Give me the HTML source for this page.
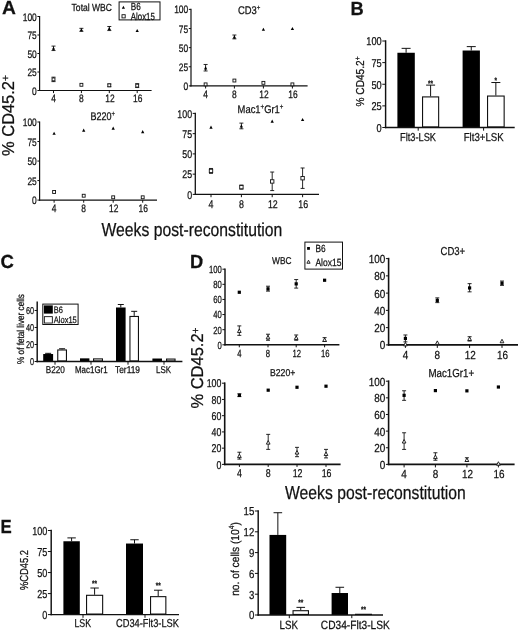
<!DOCTYPE html>
<html><head><meta charset="utf-8"><title>Figure</title>
<style>html,body{margin:0;padding:0;background:#fff}svg{display:block}
svg text{font-family:"Liberation Sans",Arial,sans-serif;fill:#111;stroke:#111;stroke-width:0.25px;text-rendering:geometricPrecision}
</style></head>
<body><svg width="520" height="631" viewBox="0 0 520 631">
<rect x="0" y="0" width="520" height="631" fill="#fff" stroke="none"/><g stroke="#111" fill="none">
<text transform="translate(2.00,14.40) scale(1.013,1)" font-size="19" text-anchor="start" font-weight="bold">A</text>
<text transform="translate(350.60,14.90) scale(0.962,1)" font-size="19" text-anchor="start" font-weight="bold">B</text>
<text transform="translate(0.60,268.20) scale(0.977,1)" font-size="19" text-anchor="start" font-weight="bold">C</text>
<text transform="translate(190.00,267.90) scale(0.962,1)" font-size="19" text-anchor="start" font-weight="bold">D</text>
<text transform="translate(0.40,533.30) scale(0.884,1)" font-size="19" text-anchor="start" font-weight="bold">E</text>
<text transform="translate(13.60,115.50) rotate(-90) scale(0.955,1)" font-size="17.2" text-anchor="middle"><tspan>% CD45.2</tspan><tspan dy="-4.64" font-size="10.66">+</tspan><tspan dy="4.64" font-size="10.66">&#8203;</tspan></text>
<text transform="translate(101.50,236.00) scale(0.838,1)" font-size="18.8" text-anchor="start">Weeks post-reconstitution</text>
<line x1="39.60" y1="15.90" x2="39.60" y2="91.10" stroke-width="1.2"/>
<line x1="39.00" y1="90.50" x2="151.60" y2="90.50" stroke-width="1.2"/>
<line x1="37.40" y1="90.50" x2="39.60" y2="90.50" stroke-width="1.0"/>
<text transform="translate(36.80,94.55) scale(0.780,1)" font-size="10.8" text-anchor="end">0</text>
<line x1="37.40" y1="72.00" x2="39.60" y2="72.00" stroke-width="1.0"/>
<text transform="translate(36.80,76.05) scale(0.780,1)" font-size="10.8" text-anchor="end">25</text>
<line x1="37.40" y1="53.50" x2="39.60" y2="53.50" stroke-width="1.0"/>
<text transform="translate(36.80,57.55) scale(0.780,1)" font-size="10.8" text-anchor="end">50</text>
<line x1="37.40" y1="35.00" x2="39.60" y2="35.00" stroke-width="1.0"/>
<text transform="translate(36.80,39.05) scale(0.780,1)" font-size="10.8" text-anchor="end">75</text>
<line x1="37.40" y1="16.50" x2="39.60" y2="16.50" stroke-width="1.0"/>
<text transform="translate(36.80,20.55) scale(0.780,1)" font-size="10.8" text-anchor="end">100</text>
<line x1="53.50" y1="90.50" x2="53.50" y2="93.10" stroke-width="1.0"/>
<text transform="translate(53.50,102.30) scale(0.780,1)" font-size="10.8" text-anchor="middle">4</text>
<line x1="81.40" y1="90.50" x2="81.40" y2="93.10" stroke-width="1.0"/>
<text transform="translate(81.40,102.30) scale(0.780,1)" font-size="10.8" text-anchor="middle">8</text>
<line x1="109.30" y1="90.50" x2="109.30" y2="93.10" stroke-width="1.0"/>
<text transform="translate(109.90,102.30) scale(0.780,1)" font-size="10.8" text-anchor="middle">12</text>
<line x1="137.20" y1="90.50" x2="137.20" y2="93.10" stroke-width="1.0"/>
<text transform="translate(137.80,102.30) scale(0.780,1)" font-size="10.8" text-anchor="middle">16</text>
<line x1="53.50" y1="81.62" x2="53.50" y2="77.18" stroke-width="0.9"/>
<line x1="51.50" y1="81.62" x2="55.50" y2="81.62" stroke-width="0.9"/>
<line x1="51.50" y1="77.18" x2="55.50" y2="77.18" stroke-width="0.9"/>
<rect x="52.05" y="77.95" width="2.90" height="2.90" fill="#fff" stroke-width="0.9"/>
<rect x="79.95" y="83.35" width="2.90" height="2.90" fill="#fff" stroke-width="0.9"/>
<line x1="109.30" y1="86.65" x2="109.30" y2="83.99" stroke-width="0.9"/>
<line x1="107.30" y1="86.65" x2="111.30" y2="86.65" stroke-width="0.9"/>
<line x1="107.30" y1="83.99" x2="111.30" y2="83.99" stroke-width="0.9"/>
<rect x="107.85" y="83.87" width="2.90" height="2.90" fill="#fff" stroke-width="0.9"/>
<line x1="137.20" y1="87.54" x2="137.20" y2="83.69" stroke-width="0.9"/>
<line x1="135.20" y1="87.54" x2="139.20" y2="87.54" stroke-width="0.9"/>
<line x1="135.20" y1="83.69" x2="139.20" y2="83.69" stroke-width="0.9"/>
<rect x="135.75" y="84.17" width="2.90" height="2.90" fill="#fff" stroke-width="0.9"/>
<line x1="53.50" y1="50.54" x2="53.50" y2="46.10" stroke-width="0.9"/>
<line x1="51.50" y1="50.54" x2="55.50" y2="50.54" stroke-width="0.9"/>
<line x1="51.50" y1="46.10" x2="55.50" y2="46.10" stroke-width="0.9"/>
<path d="M53.50,46.67 L55.15,49.80 L51.85,49.80Z" fill="#000" stroke="none"/>
<line x1="81.40" y1="31.30" x2="81.40" y2="28.34" stroke-width="0.9"/>
<line x1="79.40" y1="31.30" x2="83.40" y2="31.30" stroke-width="0.9"/>
<line x1="79.40" y1="28.34" x2="83.40" y2="28.34" stroke-width="0.9"/>
<path d="M81.40,28.17 L83.05,31.30 L79.75,31.30Z" fill="#000" stroke="none"/>
<line x1="109.30" y1="30.56" x2="109.30" y2="26.49" stroke-width="0.9"/>
<line x1="107.30" y1="30.56" x2="111.30" y2="30.56" stroke-width="0.9"/>
<line x1="107.30" y1="26.49" x2="111.30" y2="26.49" stroke-width="0.9"/>
<path d="M109.30,26.99 L110.95,30.12 L107.65,30.12Z" fill="#000" stroke="none"/>
<path d="M137.20,28.91 L138.85,32.05 L135.55,32.05Z" fill="#000" stroke="none"/>
<text transform="translate(71.60,11.30) scale(0.830,1)" font-size="10.3" text-anchor="start">Total WBC</text>
<rect x="119.10" y="1.90" width="40.90" height="18.00" fill="#fff" stroke-width="1.0"/>
<path d="M123.40,5.70 L125.00,8.74 L121.80,8.74Z" fill="#000" stroke="none"/>
<rect x="122.00" y="14.70" width="3.20" height="3.20" fill="#fff" stroke-width="0.9"/>
<text transform="translate(130.80,9.70) scale(0.790,1)" font-size="10.3" text-anchor="start">B6</text>
<text transform="translate(130.80,19.90) scale(0.762,1)" font-size="10.3" text-anchor="start">Alox15</text>
<line x1="191.00" y1="8.80" x2="191.00" y2="86.50" stroke-width="1.2"/>
<line x1="190.40" y1="85.90" x2="307.60" y2="85.90" stroke-width="1.2"/>
<line x1="188.80" y1="85.90" x2="191.00" y2="85.90" stroke-width="1.0"/>
<text transform="translate(188.20,89.95) scale(0.780,1)" font-size="10.8" text-anchor="end">0</text>
<line x1="188.80" y1="66.78" x2="191.00" y2="66.78" stroke-width="1.0"/>
<text transform="translate(188.20,70.83) scale(0.780,1)" font-size="10.8" text-anchor="end">25</text>
<line x1="188.80" y1="47.65" x2="191.00" y2="47.65" stroke-width="1.0"/>
<text transform="translate(188.20,51.70) scale(0.780,1)" font-size="10.8" text-anchor="end">50</text>
<line x1="188.80" y1="28.53" x2="191.00" y2="28.53" stroke-width="1.0"/>
<text transform="translate(188.20,32.58) scale(0.780,1)" font-size="10.8" text-anchor="end">75</text>
<line x1="188.80" y1="9.40" x2="191.00" y2="9.40" stroke-width="1.0"/>
<text transform="translate(188.20,13.45) scale(0.780,1)" font-size="10.8" text-anchor="end">100</text>
<line x1="205.60" y1="85.90" x2="205.60" y2="88.50" stroke-width="1.0"/>
<text transform="translate(205.60,97.90) scale(0.780,1)" font-size="10.8" text-anchor="middle">4</text>
<line x1="234.40" y1="85.90" x2="234.40" y2="88.50" stroke-width="1.0"/>
<text transform="translate(234.40,97.90) scale(0.780,1)" font-size="10.8" text-anchor="middle">8</text>
<line x1="263.40" y1="85.90" x2="263.40" y2="88.50" stroke-width="1.0"/>
<text transform="translate(264.00,97.90) scale(0.780,1)" font-size="10.8" text-anchor="middle">12</text>
<line x1="292.40" y1="85.90" x2="292.40" y2="88.50" stroke-width="1.0"/>
<text transform="translate(293.00,97.90) scale(0.780,1)" font-size="10.8" text-anchor="middle">16</text>
<rect x="204.15" y="82.92" width="2.90" height="2.90" fill="#fff" stroke-width="0.9"/>
<rect x="232.95" y="79.09" width="2.90" height="2.90" fill="#fff" stroke-width="0.9"/>
<rect x="261.95" y="81.39" width="2.90" height="2.90" fill="#fff" stroke-width="0.9"/>
<rect x="290.95" y="82.92" width="2.90" height="2.90" fill="#fff" stroke-width="0.9"/>
<line x1="205.60" y1="70.98" x2="205.60" y2="64.48" stroke-width="0.9"/>
<line x1="203.60" y1="70.98" x2="207.60" y2="70.98" stroke-width="0.9"/>
<line x1="203.60" y1="64.48" x2="207.60" y2="64.48" stroke-width="0.9"/>
<path d="M205.60,66.27 L207.25,69.41 L203.95,69.41Z" fill="#000" stroke="none"/>
<line x1="234.40" y1="38.85" x2="234.40" y2="35.03" stroke-width="0.9"/>
<line x1="232.40" y1="38.85" x2="236.40" y2="38.85" stroke-width="0.9"/>
<line x1="232.40" y1="35.03" x2="236.40" y2="35.03" stroke-width="0.9"/>
<path d="M234.40,35.29 L236.05,38.43 L232.75,38.43Z" fill="#000" stroke="none"/>
<path d="M263.40,27.64 L265.05,30.78 L261.75,30.78Z" fill="#000" stroke="none"/>
<path d="M292.40,26.88 L294.05,30.01 L290.75,30.01Z" fill="#000" stroke="none"/>
<text transform="translate(238.00,14.40) scale(0.841,1)" font-size="11.19" text-anchor="start"><tspan>CD3</tspan><tspan dy="-4.25" font-size="7.27">+</tspan><tspan dy="4.25" font-size="7.27">&#8203;</tspan></text>
<line x1="39.60" y1="121.40" x2="39.60" y2="200.70" stroke-width="1.2"/>
<line x1="39.00" y1="200.10" x2="157.00" y2="200.10" stroke-width="1.2"/>
<line x1="37.40" y1="200.10" x2="39.60" y2="200.10" stroke-width="1.0"/>
<text transform="translate(36.80,204.15) scale(0.780,1)" font-size="10.8" text-anchor="end">0</text>
<line x1="37.40" y1="180.57" x2="39.60" y2="180.57" stroke-width="1.0"/>
<text transform="translate(36.80,184.62) scale(0.780,1)" font-size="10.8" text-anchor="end">25</text>
<line x1="37.40" y1="161.05" x2="39.60" y2="161.05" stroke-width="1.0"/>
<text transform="translate(36.80,165.10) scale(0.780,1)" font-size="10.8" text-anchor="end">50</text>
<line x1="37.40" y1="141.53" x2="39.60" y2="141.53" stroke-width="1.0"/>
<text transform="translate(36.80,145.58) scale(0.780,1)" font-size="10.8" text-anchor="end">75</text>
<line x1="37.40" y1="122.00" x2="39.60" y2="122.00" stroke-width="1.0"/>
<text transform="translate(36.80,126.05) scale(0.780,1)" font-size="10.8" text-anchor="end">100</text>
<line x1="54.10" y1="200.10" x2="54.10" y2="202.70" stroke-width="1.0"/>
<text transform="translate(54.10,212.30) scale(0.780,1)" font-size="10.8" text-anchor="middle">4</text>
<line x1="83.70" y1="200.10" x2="83.70" y2="202.70" stroke-width="1.0"/>
<text transform="translate(83.70,212.30) scale(0.780,1)" font-size="10.8" text-anchor="middle">8</text>
<line x1="113.20" y1="200.10" x2="113.20" y2="202.70" stroke-width="1.0"/>
<text transform="translate(113.80,212.30) scale(0.780,1)" font-size="10.8" text-anchor="middle">12</text>
<line x1="142.70" y1="200.10" x2="142.70" y2="202.70" stroke-width="1.0"/>
<text transform="translate(143.30,212.30) scale(0.780,1)" font-size="10.8" text-anchor="middle">16</text>
<rect x="52.65" y="190.53" width="2.90" height="2.90" fill="#fff" stroke-width="0.9"/>
<rect x="82.25" y="194.28" width="2.90" height="2.90" fill="#fff" stroke-width="0.9"/>
<rect x="111.75" y="195.84" width="2.90" height="2.90" fill="#fff" stroke-width="0.9"/>
<rect x="141.25" y="195.84" width="2.90" height="2.90" fill="#fff" stroke-width="0.9"/>
<path d="M54.10,131.67 L55.75,134.81 L52.45,134.81Z" fill="#000" stroke="none"/>
<path d="M83.70,128.55 L85.35,131.69 L82.05,131.69Z" fill="#000" stroke="none"/>
<path d="M113.20,126.60 L114.85,129.73 L111.55,129.73Z" fill="#000" stroke="none"/>
<path d="M142.70,130.03 L144.35,133.17 L141.05,133.17Z" fill="#000" stroke="none"/>
<text transform="translate(90.40,120.20) scale(0.814,1)" font-size="11.07" text-anchor="start"><tspan>B220</tspan><tspan dy="-4.21" font-size="7.20">+</tspan><tspan dy="4.21" font-size="7.20">&#8203;</tspan></text>
<line x1="195.30" y1="112.75" x2="195.30" y2="195.05" stroke-width="1.3"/>
<line x1="194.65" y1="194.40" x2="319.00" y2="194.40" stroke-width="1.3"/>
<line x1="192.70" y1="194.40" x2="195.30" y2="194.40" stroke-width="1.0"/>
<text transform="translate(192.10,198.60) scale(0.790,1)" font-size="11.2" text-anchor="end">0</text>
<line x1="192.70" y1="174.15" x2="195.30" y2="174.15" stroke-width="1.0"/>
<text transform="translate(192.10,178.35) scale(0.790,1)" font-size="11.2" text-anchor="end">25</text>
<line x1="192.70" y1="153.90" x2="195.30" y2="153.90" stroke-width="1.0"/>
<text transform="translate(192.10,158.10) scale(0.790,1)" font-size="11.2" text-anchor="end">50</text>
<line x1="192.70" y1="133.65" x2="195.30" y2="133.65" stroke-width="1.0"/>
<text transform="translate(192.10,137.85) scale(0.790,1)" font-size="11.2" text-anchor="end">75</text>
<line x1="192.70" y1="113.40" x2="195.30" y2="113.40" stroke-width="1.0"/>
<text transform="translate(192.10,117.60) scale(0.790,1)" font-size="11.2" text-anchor="end">100</text>
<line x1="211.00" y1="194.40" x2="211.00" y2="197.20" stroke-width="1.0"/>
<text transform="translate(211.00,207.60) scale(0.790,1)" font-size="11.2" text-anchor="middle">4</text>
<line x1="241.40" y1="194.40" x2="241.40" y2="197.20" stroke-width="1.0"/>
<text transform="translate(241.40,207.60) scale(0.790,1)" font-size="11.2" text-anchor="middle">8</text>
<line x1="272.20" y1="194.40" x2="272.20" y2="197.20" stroke-width="1.0"/>
<text transform="translate(272.80,207.60) scale(0.790,1)" font-size="11.2" text-anchor="middle">12</text>
<line x1="302.60" y1="194.40" x2="302.60" y2="197.20" stroke-width="1.0"/>
<text transform="translate(303.20,207.60) scale(0.790,1)" font-size="11.2" text-anchor="middle">16</text>
<line x1="211.00" y1="173.34" x2="211.00" y2="168.48" stroke-width="0.9"/>
<line x1="209.00" y1="173.34" x2="213.00" y2="173.34" stroke-width="0.9"/>
<line x1="209.00" y1="168.48" x2="213.00" y2="168.48" stroke-width="0.9"/>
<rect x="209.30" y="169.21" width="3.40" height="3.40" fill="#fff" stroke-width="0.9"/>
<line x1="241.40" y1="189.13" x2="241.40" y2="185.09" stroke-width="0.9"/>
<line x1="239.40" y1="189.13" x2="243.40" y2="189.13" stroke-width="0.9"/>
<line x1="239.40" y1="185.09" x2="243.40" y2="185.09" stroke-width="0.9"/>
<rect x="239.70" y="185.41" width="3.40" height="3.40" fill="#fff" stroke-width="0.9"/>
<line x1="272.20" y1="190.59" x2="272.20" y2="172.04" stroke-width="0.9"/>
<line x1="270.20" y1="190.59" x2="274.20" y2="190.59" stroke-width="0.9"/>
<line x1="270.20" y1="172.04" x2="274.20" y2="172.04" stroke-width="0.9"/>
<rect x="270.50" y="179.74" width="3.40" height="3.40" fill="#fff" stroke-width="0.9"/>
<line x1="302.60" y1="188.41" x2="302.60" y2="167.99" stroke-width="0.9"/>
<line x1="300.60" y1="188.41" x2="304.60" y2="188.41" stroke-width="0.9"/>
<line x1="300.60" y1="167.99" x2="304.60" y2="167.99" stroke-width="0.9"/>
<rect x="300.90" y="176.50" width="3.40" height="3.40" fill="#fff" stroke-width="0.9"/>
<path d="M211.00,125.52 L212.65,128.66 L209.35,128.66Z" fill="#000" stroke="none"/>
<line x1="241.40" y1="128.79" x2="241.40" y2="123.12" stroke-width="0.9"/>
<line x1="239.40" y1="128.79" x2="243.40" y2="128.79" stroke-width="0.9"/>
<line x1="239.40" y1="123.12" x2="243.40" y2="123.12" stroke-width="0.9"/>
<path d="M241.40,124.39 L243.05,127.52 L239.75,127.52Z" fill="#000" stroke="none"/>
<path d="M272.20,119.53 L273.85,122.66 L270.55,122.66Z" fill="#000" stroke="none"/>
<path d="M302.60,117.91 L304.25,121.04 L300.95,121.04Z" fill="#000" stroke="none"/>
<text transform="translate(237.60,112.80) scale(0.850,1)" font-size="11.07" text-anchor="start"><tspan>Mac1</tspan><tspan dy="-4.21" font-size="7.20">+</tspan><tspan dy="4.21" font-size="7.20">&#8203;</tspan><tspan>Gr1</tspan><tspan dy="-4.21" font-size="7.20">+</tspan><tspan dy="4.21" font-size="7.20">&#8203;</tspan></text>
<line x1="406.10" y1="52.76" x2="406.10" y2="48.35" stroke-width="1.0"/>
<line x1="401.60" y1="48.35" x2="410.60" y2="48.35" stroke-width="1.0"/>
<rect x="397.40" y="52.76" width="17.40" height="74.74" fill="#000" stroke="none"/>
<line x1="430.60" y1="96.36" x2="430.60" y2="85.12" stroke-width="1.0"/>
<line x1="426.10" y1="85.12" x2="435.10" y2="85.12" stroke-width="1.0"/>
<rect x="422.55" y="96.91" width="16.10" height="30.04" fill="#fff" stroke-width="1.1"/>
<text transform="translate(430.60,86.20) scale(0.800,1)" font-size="8" text-anchor="middle" font-weight="bold">**</text>
<line x1="471.25" y1="50.52" x2="471.25" y2="46.62" stroke-width="1.0"/>
<line x1="466.75" y1="46.62" x2="475.75" y2="46.62" stroke-width="1.0"/>
<rect x="462.60" y="50.52" width="17.30" height="76.98" fill="#000" stroke="none"/>
<line x1="495.85" y1="95.50" x2="495.85" y2="82.52" stroke-width="1.0"/>
<line x1="491.35" y1="82.52" x2="500.35" y2="82.52" stroke-width="1.0"/>
<rect x="487.55" y="96.05" width="16.60" height="30.90" fill="#fff" stroke-width="1.1"/>
<text transform="translate(495.85,83.20) scale(0.800,1)" font-size="8" text-anchor="middle" font-weight="bold">*</text>
<line x1="385.60" y1="40.27" x2="385.60" y2="128.22" stroke-width="1.45"/>
<line x1="384.88" y1="127.50" x2="514.70" y2="127.50" stroke-width="1.45"/>
<line x1="382.30" y1="127.50" x2="385.60" y2="127.50" stroke-width="1.0"/>
<text transform="translate(381.70,131.78) scale(0.810,1)" font-size="11.4" text-anchor="end">0</text>
<line x1="382.30" y1="105.88" x2="385.60" y2="105.88" stroke-width="1.0"/>
<text transform="translate(381.70,110.15) scale(0.810,1)" font-size="11.4" text-anchor="end">25</text>
<line x1="382.30" y1="84.25" x2="385.60" y2="84.25" stroke-width="1.0"/>
<text transform="translate(381.70,88.53) scale(0.810,1)" font-size="11.4" text-anchor="end">50</text>
<line x1="382.30" y1="62.62" x2="385.60" y2="62.62" stroke-width="1.0"/>
<text transform="translate(381.70,66.90) scale(0.810,1)" font-size="11.4" text-anchor="end">75</text>
<line x1="382.30" y1="41.00" x2="385.60" y2="41.00" stroke-width="1.0"/>
<text transform="translate(381.70,45.27) scale(0.810,1)" font-size="11.4" text-anchor="end">100</text>
<line x1="418.20" y1="127.50" x2="418.20" y2="130.70" stroke-width="1.0"/>
<line x1="483.60" y1="127.50" x2="483.60" y2="130.70" stroke-width="1.0"/>
<text transform="translate(400.00,140.80) scale(0.803,1)" font-size="11.53" text-anchor="start">Flt3-LSK</text>
<text transform="translate(463.70,140.80) scale(0.838,1)" font-size="11.53" text-anchor="start">Flt3+LSK</text>
<text transform="translate(363.90,81.50) rotate(-90) scale(0.880,1)" font-size="11.5" text-anchor="middle"><tspan>% CD45.2</tspan><tspan dy="-4.37" font-size="7.48">+</tspan><tspan dy="4.37" font-size="7.48">&#8203;</tspan></text>
<line x1="48.15" y1="354.01" x2="48.15" y2="353.33" stroke-width="1.0"/>
<line x1="45.15" y1="353.33" x2="51.15" y2="353.33" stroke-width="1.0"/>
<rect x="43.20" y="354.01" width="9.90" height="7.49" fill="#000" stroke="none"/>
<line x1="62.10" y1="349.42" x2="62.10" y2="348.74" stroke-width="1.0"/>
<line x1="59.10" y1="348.74" x2="65.10" y2="348.74" stroke-width="1.0"/>
<rect x="57.75" y="349.97" width="8.70" height="10.98" fill="#fff" stroke-width="1.1"/>
<rect x="80.00" y="358.35" width="9.40" height="3.15" fill="#000" stroke="none"/>
<rect x="93.55" y="358.90" width="8.90" height="2.05" fill="#fff" stroke-width="1.1"/>
<line x1="120.80" y1="307.49" x2="120.80" y2="304.51" stroke-width="1.0"/>
<line x1="117.80" y1="304.51" x2="123.80" y2="304.51" stroke-width="1.0"/>
<rect x="116.00" y="307.49" width="9.60" height="54.01" fill="#000" stroke="none"/>
<line x1="134.20" y1="315.91" x2="134.20" y2="311.32" stroke-width="1.0"/>
<line x1="131.20" y1="311.32" x2="137.20" y2="311.32" stroke-width="1.0"/>
<rect x="129.95" y="316.46" width="8.50" height="44.49" fill="#fff" stroke-width="1.1"/>
<rect x="152.40" y="358.52" width="9.60" height="2.98" fill="#000" stroke="none"/>
<rect x="166.55" y="359.07" width="8.50" height="1.88" fill="#fff" stroke-width="1.1"/>
<line x1="37.20" y1="301.57" x2="37.20" y2="362.23" stroke-width="1.45"/>
<line x1="36.48" y1="361.50" x2="182.40" y2="361.50" stroke-width="1.45"/>
<line x1="34.60" y1="361.50" x2="37.20" y2="361.50" stroke-width="1.0"/>
<text transform="translate(34.00,365.25) scale(0.730,1)" font-size="10" text-anchor="end">0</text>
<line x1="34.60" y1="344.49" x2="37.20" y2="344.49" stroke-width="1.0"/>
<text transform="translate(34.00,348.24) scale(0.730,1)" font-size="10" text-anchor="end">20</text>
<line x1="34.60" y1="327.48" x2="37.20" y2="327.48" stroke-width="1.0"/>
<text transform="translate(34.00,331.23) scale(0.730,1)" font-size="10" text-anchor="end">40</text>
<line x1="34.60" y1="310.47" x2="37.20" y2="310.47" stroke-width="1.0"/>
<text transform="translate(34.00,314.22) scale(0.730,1)" font-size="10" text-anchor="end">60</text>
<line x1="55.00" y1="361.50" x2="55.00" y2="364.70" stroke-width="1.0"/>
<line x1="91.00" y1="361.50" x2="91.00" y2="364.70" stroke-width="1.0"/>
<line x1="128.00" y1="361.50" x2="128.00" y2="364.70" stroke-width="1.0"/>
<line x1="164.00" y1="361.50" x2="164.00" y2="364.70" stroke-width="1.0"/>
<text transform="translate(45.70,372.60) scale(0.836,1)" font-size="9.83" text-anchor="start">B220</text>
<text transform="translate(75.00,372.60) scale(0.807,1)" font-size="9.83" text-anchor="start">Mac1Gr1</text>
<text transform="translate(115.00,372.60) scale(0.853,1)" font-size="9.83" text-anchor="start">Ter119</text>
<text transform="translate(156.00,372.60) scale(0.807,1)" font-size="9.83" text-anchor="start">LSK</text>
<text transform="translate(23.70,329.00) rotate(-90) scale(0.823,1)" font-size="9.94" text-anchor="middle">% of fetal liver cells</text>
<rect x="42.80" y="304.10" width="35.30" height="20.40" fill="#fff" stroke-width="1.0"/>
<rect x="43.90" y="305.40" width="8.90" height="8.20" fill="#000" stroke="none"/>
<rect x="44.35" y="316.65" width="8.00" height="6.40" fill="#fff" stroke-width="0.9"/>
<text transform="translate(53.80,313.40) scale(0.796,1)" font-size="9.38" text-anchor="start">B6</text>
<text transform="translate(53.80,323.00) scale(0.802,1)" font-size="9.38" text-anchor="start">Alox15</text>
<text transform="translate(203.20,368.00) rotate(-90) scale(0.960,1)" font-size="17.2" text-anchor="middle"><tspan>% CD45.2</tspan><tspan dy="-4.64" font-size="10.66">+</tspan><tspan dy="4.64" font-size="10.66">&#8203;</tspan></text>
<text transform="translate(285.00,499.00) scale(0.838,1)" font-size="18.8" text-anchor="start">Weeks post-reconstitution</text>
<line x1="225.00" y1="268.47" x2="225.00" y2="345.53" stroke-width="1.45"/>
<line x1="224.28" y1="344.80" x2="339.40" y2="344.80" stroke-width="1.45"/>
<line x1="222.40" y1="344.80" x2="225.00" y2="344.80" stroke-width="1.0"/>
<text transform="translate(221.80,348.70) scale(0.740,1)" font-size="10.4" text-anchor="end">0</text>
<line x1="222.40" y1="329.68" x2="225.00" y2="329.68" stroke-width="1.0"/>
<text transform="translate(221.80,333.58) scale(0.740,1)" font-size="10.4" text-anchor="end">20</text>
<line x1="222.40" y1="314.56" x2="225.00" y2="314.56" stroke-width="1.0"/>
<text transform="translate(221.80,318.46) scale(0.740,1)" font-size="10.4" text-anchor="end">40</text>
<line x1="222.40" y1="299.44" x2="225.00" y2="299.44" stroke-width="1.0"/>
<text transform="translate(221.80,303.34) scale(0.740,1)" font-size="10.4" text-anchor="end">60</text>
<line x1="222.40" y1="284.32" x2="225.00" y2="284.32" stroke-width="1.0"/>
<text transform="translate(221.80,288.22) scale(0.740,1)" font-size="10.4" text-anchor="end">80</text>
<line x1="222.40" y1="269.20" x2="225.00" y2="269.20" stroke-width="1.0"/>
<text transform="translate(221.80,273.10) scale(0.740,1)" font-size="10.4" text-anchor="end">100</text>
<line x1="239.30" y1="344.80" x2="239.30" y2="347.30" stroke-width="1.0"/>
<text transform="translate(239.30,356.50) scale(0.740,1)" font-size="10.4" text-anchor="middle">4</text>
<line x1="268.00" y1="344.80" x2="268.00" y2="347.30" stroke-width="1.0"/>
<text transform="translate(268.00,356.50) scale(0.740,1)" font-size="10.4" text-anchor="middle">8</text>
<line x1="296.20" y1="344.80" x2="296.20" y2="347.30" stroke-width="1.0"/>
<text transform="translate(296.80,356.50) scale(0.740,1)" font-size="10.4" text-anchor="middle">12</text>
<line x1="324.60" y1="344.80" x2="324.60" y2="347.30" stroke-width="1.0"/>
<text transform="translate(325.20,356.50) scale(0.740,1)" font-size="10.4" text-anchor="middle">16</text>
<line x1="239.30" y1="335.35" x2="239.30" y2="325.90" stroke-width="0.9"/>
<line x1="237.30" y1="335.35" x2="241.30" y2="335.35" stroke-width="0.9"/>
<line x1="237.30" y1="325.90" x2="241.30" y2="325.90" stroke-width="0.9"/>
<path d="M239.30,328.96 L241.15,332.48 L237.45,332.48Z" fill="#fff" stroke-width="0.9"/>
<line x1="268.00" y1="340.26" x2="268.00" y2="334.22" stroke-width="0.9"/>
<line x1="266.00" y1="340.26" x2="270.00" y2="340.26" stroke-width="0.9"/>
<line x1="266.00" y1="334.22" x2="270.00" y2="334.22" stroke-width="0.9"/>
<path d="M268.00,335.39 L269.85,338.91 L266.15,338.91Z" fill="#fff" stroke-width="0.9"/>
<line x1="296.20" y1="340.26" x2="296.20" y2="334.97" stroke-width="0.9"/>
<line x1="294.20" y1="340.26" x2="298.20" y2="340.26" stroke-width="0.9"/>
<line x1="294.20" y1="334.97" x2="298.20" y2="334.97" stroke-width="0.9"/>
<path d="M296.20,335.92 L298.05,339.43 L294.35,339.43Z" fill="#fff" stroke-width="0.9"/>
<line x1="324.60" y1="341.40" x2="324.60" y2="337.62" stroke-width="0.9"/>
<line x1="322.60" y1="341.40" x2="326.60" y2="341.40" stroke-width="0.9"/>
<line x1="322.60" y1="337.62" x2="326.60" y2="337.62" stroke-width="0.9"/>
<path d="M324.60,337.96 L326.45,341.48 L322.75,341.48Z" fill="#fff" stroke-width="0.9"/>
<rect x="237.70" y="290.66" width="3.20" height="3.20" fill="#000" stroke="none"/>
<line x1="268.00" y1="291.12" x2="268.00" y2="286.21" stroke-width="0.9"/>
<line x1="266.00" y1="291.12" x2="270.00" y2="291.12" stroke-width="0.9"/>
<line x1="266.00" y1="286.21" x2="270.00" y2="286.21" stroke-width="0.9"/>
<rect x="266.40" y="287.26" width="3.20" height="3.20" fill="#000" stroke="none"/>
<line x1="296.20" y1="288.10" x2="296.20" y2="279.56" stroke-width="0.9"/>
<line x1="294.20" y1="288.10" x2="298.20" y2="288.10" stroke-width="0.9"/>
<line x1="294.20" y1="279.56" x2="298.20" y2="279.56" stroke-width="0.9"/>
<rect x="294.60" y="282.27" width="3.20" height="3.20" fill="#000" stroke="none"/>
<rect x="323.00" y="278.64" width="3.20" height="3.20" fill="#000" stroke="none"/>
<text transform="translate(272.00,264.00) scale(0.845,1)" font-size="9.94" text-anchor="start">WBC</text>
<rect x="304.90" y="242.10" width="37.60" height="27.00" fill="#fff" stroke-width="1.0"/>
<rect x="307.10" y="247.00" width="2.80" height="2.80" fill="#000" stroke="none"/>
<path d="M308.50,260.20 L310.10,263.24 L306.90,263.24Z" fill="#fff" stroke-width="0.9"/>
<text transform="translate(315.40,251.60) scale(0.796,1)" font-size="10.4" text-anchor="start">B6</text>
<text transform="translate(315.40,265.60) scale(0.818,1)" font-size="10.4" text-anchor="start">Alox15</text>
<line x1="388.60" y1="257.80" x2="388.60" y2="345.70" stroke-width="1.6"/>
<line x1="387.80" y1="344.90" x2="518.00" y2="344.90" stroke-width="1.6"/>
<line x1="385.90" y1="344.90" x2="388.60" y2="344.90" stroke-width="1.0"/>
<text transform="translate(385.30,349.29) scale(0.850,1)" font-size="11.7" text-anchor="end">0</text>
<line x1="385.90" y1="327.64" x2="388.60" y2="327.64" stroke-width="1.0"/>
<text transform="translate(385.30,332.03) scale(0.850,1)" font-size="11.7" text-anchor="end">20</text>
<line x1="385.90" y1="310.38" x2="388.60" y2="310.38" stroke-width="1.0"/>
<text transform="translate(385.30,314.77) scale(0.850,1)" font-size="11.7" text-anchor="end">40</text>
<line x1="385.90" y1="293.12" x2="388.60" y2="293.12" stroke-width="1.0"/>
<text transform="translate(385.30,297.51) scale(0.850,1)" font-size="11.7" text-anchor="end">60</text>
<line x1="385.90" y1="275.86" x2="388.60" y2="275.86" stroke-width="1.0"/>
<text transform="translate(385.30,280.25) scale(0.850,1)" font-size="11.7" text-anchor="end">80</text>
<line x1="385.90" y1="258.60" x2="388.60" y2="258.60" stroke-width="1.0"/>
<text transform="translate(385.30,262.99) scale(0.850,1)" font-size="11.7" text-anchor="end">100</text>
<line x1="405.40" y1="344.90" x2="405.40" y2="347.90" stroke-width="1.0"/>
<text transform="translate(405.40,358.60) scale(0.850,1)" font-size="11.7" text-anchor="middle">4</text>
<line x1="437.30" y1="344.90" x2="437.30" y2="347.90" stroke-width="1.0"/>
<text transform="translate(437.30,358.60) scale(0.850,1)" font-size="11.7" text-anchor="middle">8</text>
<line x1="469.60" y1="344.90" x2="469.60" y2="347.90" stroke-width="1.0"/>
<text transform="translate(470.20,358.60) scale(0.850,1)" font-size="11.7" text-anchor="middle">12</text>
<line x1="502.00" y1="344.90" x2="502.00" y2="347.90" stroke-width="1.0"/>
<text transform="translate(502.60,358.60) scale(0.850,1)" font-size="11.7" text-anchor="middle">16</text>
<path d="M405.40,342.36 L407.25,345.87 L403.55,345.87Z" fill="#fff" stroke-width="0.9"/>
<path d="M437.30,340.89 L439.15,344.41 L435.45,344.41Z" fill="#fff" stroke-width="0.9"/>
<line x1="469.60" y1="341.02" x2="469.60" y2="336.70" stroke-width="0.9"/>
<line x1="467.60" y1="341.02" x2="471.60" y2="341.02" stroke-width="0.9"/>
<line x1="467.60" y1="336.70" x2="471.60" y2="336.70" stroke-width="0.9"/>
<path d="M469.60,337.01 L471.45,340.52 L467.75,340.52Z" fill="#fff" stroke-width="0.9"/>
<path d="M502.00,339.25 L503.85,342.77 L500.15,342.77Z" fill="#fff" stroke-width="0.9"/>
<line x1="405.40" y1="341.88" x2="405.40" y2="334.98" stroke-width="0.9"/>
<line x1="403.40" y1="341.88" x2="407.40" y2="341.88" stroke-width="0.9"/>
<line x1="403.40" y1="334.98" x2="407.40" y2="334.98" stroke-width="0.9"/>
<rect x="403.80" y="336.83" width="3.20" height="3.20" fill="#000" stroke="none"/>
<line x1="437.30" y1="302.61" x2="437.30" y2="297.87" stroke-width="0.9"/>
<line x1="435.30" y1="302.61" x2="439.30" y2="302.61" stroke-width="0.9"/>
<line x1="435.30" y1="297.87" x2="439.30" y2="297.87" stroke-width="0.9"/>
<rect x="435.70" y="298.77" width="3.20" height="3.20" fill="#000" stroke="none"/>
<line x1="469.60" y1="291.83" x2="469.60" y2="283.63" stroke-width="0.9"/>
<line x1="467.60" y1="291.83" x2="471.60" y2="291.83" stroke-width="0.9"/>
<line x1="467.60" y1="283.63" x2="471.60" y2="283.63" stroke-width="0.9"/>
<rect x="468.00" y="286.34" width="3.20" height="3.20" fill="#000" stroke="none"/>
<line x1="502.00" y1="285.35" x2="502.00" y2="281.04" stroke-width="0.9"/>
<line x1="500.00" y1="285.35" x2="504.00" y2="285.35" stroke-width="0.9"/>
<line x1="500.00" y1="281.04" x2="504.00" y2="281.04" stroke-width="0.9"/>
<rect x="500.40" y="281.68" width="3.20" height="3.20" fill="#000" stroke="none"/>
<text transform="translate(440.60,255.20) scale(0.818,1)" font-size="11.64" text-anchor="start">CD3+</text>
<line x1="224.70" y1="382.40" x2="224.70" y2="465.20" stroke-width="1.6"/>
<line x1="223.90" y1="464.40" x2="340.60" y2="464.40" stroke-width="1.6"/>
<line x1="222.00" y1="464.40" x2="224.70" y2="464.40" stroke-width="1.0"/>
<text transform="translate(221.40,468.67) scale(0.775,1)" font-size="11.4" text-anchor="end">0</text>
<line x1="222.00" y1="448.16" x2="224.70" y2="448.16" stroke-width="1.0"/>
<text transform="translate(221.40,452.43) scale(0.775,1)" font-size="11.4" text-anchor="end">20</text>
<line x1="222.00" y1="431.92" x2="224.70" y2="431.92" stroke-width="1.0"/>
<text transform="translate(221.40,436.19) scale(0.775,1)" font-size="11.4" text-anchor="end">40</text>
<line x1="222.00" y1="415.68" x2="224.70" y2="415.68" stroke-width="1.0"/>
<text transform="translate(221.40,419.95) scale(0.775,1)" font-size="11.4" text-anchor="end">60</text>
<line x1="222.00" y1="399.44" x2="224.70" y2="399.44" stroke-width="1.0"/>
<text transform="translate(221.40,403.71) scale(0.775,1)" font-size="11.4" text-anchor="end">80</text>
<line x1="222.00" y1="383.20" x2="224.70" y2="383.20" stroke-width="1.0"/>
<text transform="translate(221.40,387.47) scale(0.775,1)" font-size="11.4" text-anchor="end">100</text>
<line x1="239.40" y1="464.40" x2="239.40" y2="466.90" stroke-width="1.0"/>
<text transform="translate(239.40,477.00) scale(0.775,1)" font-size="11.4" text-anchor="middle">4</text>
<line x1="268.20" y1="464.40" x2="268.20" y2="466.90" stroke-width="1.0"/>
<text transform="translate(268.20,477.00) scale(0.775,1)" font-size="11.4" text-anchor="middle">8</text>
<line x1="297.00" y1="464.40" x2="297.00" y2="466.90" stroke-width="1.0"/>
<text transform="translate(297.60,477.00) scale(0.775,1)" font-size="11.4" text-anchor="middle">12</text>
<line x1="326.00" y1="464.40" x2="326.00" y2="466.90" stroke-width="1.0"/>
<text transform="translate(326.60,477.00) scale(0.775,1)" font-size="11.4" text-anchor="middle">16</text>
<line x1="239.40" y1="459.12" x2="239.40" y2="452.22" stroke-width="0.9"/>
<line x1="237.40" y1="459.12" x2="241.40" y2="459.12" stroke-width="0.9"/>
<line x1="237.40" y1="452.22" x2="241.40" y2="452.22" stroke-width="0.9"/>
<path d="M239.40,454.11 L241.25,457.62 L237.55,457.62Z" fill="#fff" stroke-width="0.9"/>
<line x1="268.20" y1="449.38" x2="268.20" y2="434.36" stroke-width="0.9"/>
<line x1="266.20" y1="449.38" x2="270.20" y2="449.38" stroke-width="0.9"/>
<line x1="266.20" y1="434.36" x2="270.20" y2="434.36" stroke-width="0.9"/>
<path d="M268.20,440.63 L270.05,444.14 L266.35,444.14Z" fill="#fff" stroke-width="0.9"/>
<line x1="297.00" y1="456.69" x2="297.00" y2="447.35" stroke-width="0.9"/>
<line x1="295.00" y1="456.69" x2="299.00" y2="456.69" stroke-width="0.9"/>
<line x1="295.00" y1="447.35" x2="299.00" y2="447.35" stroke-width="0.9"/>
<path d="M297.00,450.53 L298.85,454.05 L295.15,454.05Z" fill="#fff" stroke-width="0.9"/>
<line x1="326.00" y1="457.90" x2="326.00" y2="449.38" stroke-width="0.9"/>
<line x1="324.00" y1="457.90" x2="328.00" y2="457.90" stroke-width="0.9"/>
<line x1="324.00" y1="449.38" x2="328.00" y2="449.38" stroke-width="0.9"/>
<path d="M326.00,451.99 L327.85,455.51 L324.15,455.51Z" fill="#fff" stroke-width="0.9"/>
<line x1="239.40" y1="396.60" x2="239.40" y2="393.76" stroke-width="0.9"/>
<line x1="237.40" y1="396.60" x2="241.40" y2="396.60" stroke-width="0.9"/>
<line x1="237.40" y1="393.76" x2="241.40" y2="393.76" stroke-width="0.9"/>
<rect x="237.80" y="393.78" width="3.20" height="3.20" fill="#000" stroke="none"/>
<rect x="266.60" y="388.58" width="3.20" height="3.20" fill="#000" stroke="none"/>
<rect x="295.40" y="385.66" width="3.20" height="3.20" fill="#000" stroke="none"/>
<rect x="324.40" y="384.60" width="3.20" height="3.20" fill="#000" stroke="none"/>
<text transform="translate(270.00,375.60) scale(0.875,1)" font-size="9.94" text-anchor="start">B220+</text>
<line x1="388.60" y1="380.40" x2="388.60" y2="465.20" stroke-width="1.6"/>
<line x1="387.80" y1="464.40" x2="514.60" y2="464.40" stroke-width="1.6"/>
<line x1="385.90" y1="464.40" x2="388.60" y2="464.40" stroke-width="1.0"/>
<text transform="translate(385.30,468.79) scale(0.850,1)" font-size="11.7" text-anchor="end">0</text>
<line x1="385.90" y1="447.76" x2="388.60" y2="447.76" stroke-width="1.0"/>
<text transform="translate(385.30,452.15) scale(0.850,1)" font-size="11.7" text-anchor="end">20</text>
<line x1="385.90" y1="431.12" x2="388.60" y2="431.12" stroke-width="1.0"/>
<text transform="translate(385.30,435.51) scale(0.850,1)" font-size="11.7" text-anchor="end">40</text>
<line x1="385.90" y1="414.48" x2="388.60" y2="414.48" stroke-width="1.0"/>
<text transform="translate(385.30,418.87) scale(0.850,1)" font-size="11.7" text-anchor="end">60</text>
<line x1="385.90" y1="397.84" x2="388.60" y2="397.84" stroke-width="1.0"/>
<text transform="translate(385.30,402.23) scale(0.850,1)" font-size="11.7" text-anchor="end">80</text>
<line x1="385.90" y1="381.20" x2="388.60" y2="381.20" stroke-width="1.0"/>
<text transform="translate(385.30,385.59) scale(0.850,1)" font-size="11.7" text-anchor="end">100</text>
<line x1="404.10" y1="464.40" x2="404.10" y2="467.40" stroke-width="1.0"/>
<text transform="translate(404.10,477.80) scale(0.850,1)" font-size="11.7" text-anchor="middle">4</text>
<line x1="435.40" y1="464.40" x2="435.40" y2="467.40" stroke-width="1.0"/>
<text transform="translate(435.40,477.80) scale(0.850,1)" font-size="11.7" text-anchor="middle">8</text>
<line x1="466.90" y1="464.40" x2="466.90" y2="467.40" stroke-width="1.0"/>
<text transform="translate(467.50,477.80) scale(0.850,1)" font-size="11.7" text-anchor="middle">12</text>
<line x1="498.40" y1="464.40" x2="498.40" y2="467.40" stroke-width="1.0"/>
<text transform="translate(499.00,477.80) scale(0.850,1)" font-size="11.7" text-anchor="middle">16</text>
<line x1="404.10" y1="449.42" x2="404.10" y2="432.78" stroke-width="0.9"/>
<line x1="402.10" y1="449.42" x2="406.10" y2="449.42" stroke-width="0.9"/>
<line x1="402.10" y1="432.78" x2="406.10" y2="432.78" stroke-width="0.9"/>
<path d="M404.10,439.50 L405.95,443.02 L402.25,443.02Z" fill="#fff" stroke-width="0.9"/>
<line x1="435.40" y1="460.24" x2="435.40" y2="452.75" stroke-width="0.9"/>
<line x1="433.40" y1="460.24" x2="437.40" y2="460.24" stroke-width="0.9"/>
<line x1="433.40" y1="452.75" x2="437.40" y2="452.75" stroke-width="0.9"/>
<path d="M435.40,455.06 L437.25,458.58 L433.55,458.58Z" fill="#fff" stroke-width="0.9"/>
<line x1="466.90" y1="461.49" x2="466.90" y2="457.74" stroke-width="0.9"/>
<line x1="464.90" y1="461.49" x2="468.90" y2="461.49" stroke-width="0.9"/>
<line x1="464.90" y1="457.74" x2="468.90" y2="457.74" stroke-width="0.9"/>
<path d="M466.90,457.97 L468.75,461.49 L465.05,461.49Z" fill="#fff" stroke-width="0.9"/>
<path d="M498.40,461.72 L500.25,465.23 L496.55,465.23Z" fill="#fff" stroke-width="0.9"/>
<line x1="404.10" y1="400.34" x2="404.10" y2="390.77" stroke-width="0.9"/>
<line x1="402.10" y1="400.34" x2="406.10" y2="400.34" stroke-width="0.9"/>
<line x1="402.10" y1="390.77" x2="406.10" y2="390.77" stroke-width="0.9"/>
<rect x="402.50" y="393.74" width="3.20" height="3.20" fill="#000" stroke="none"/>
<rect x="433.80" y="389.00" width="3.20" height="3.20" fill="#000" stroke="none"/>
<rect x="465.30" y="389.25" width="3.20" height="3.20" fill="#000" stroke="none"/>
<rect x="496.80" y="385.42" width="3.20" height="3.20" fill="#000" stroke="none"/>
<text transform="translate(428.40,376.80) scale(0.838,1)" font-size="11.64" text-anchor="start">Mac1Gr1+</text>
<line x1="71.60" y1="541.26" x2="71.60" y2="537.90" stroke-width="1.0"/>
<line x1="67.40" y1="537.90" x2="75.80" y2="537.90" stroke-width="1.0"/>
<rect x="63.40" y="541.26" width="16.40" height="73.34" fill="#000" stroke="none"/>
<line x1="94.60" y1="594.75" x2="94.60" y2="588.02" stroke-width="1.0"/>
<line x1="90.40" y1="588.02" x2="98.80" y2="588.02" stroke-width="1.0"/>
<rect x="86.55" y="595.30" width="16.10" height="18.75" fill="#fff" stroke-width="1.1"/>
<text transform="translate(94.60,586.30) scale(0.800,1)" font-size="8" text-anchor="middle" font-weight="bold">**</text>
<line x1="134.50" y1="543.54" x2="134.50" y2="539.75" stroke-width="1.0"/>
<line x1="130.30" y1="539.75" x2="138.70" y2="539.75" stroke-width="1.0"/>
<rect x="126.00" y="543.54" width="17.00" height="71.06" fill="#000" stroke="none"/>
<line x1="158.20" y1="596.10" x2="158.20" y2="590.21" stroke-width="1.0"/>
<line x1="154.00" y1="590.21" x2="162.40" y2="590.21" stroke-width="1.0"/>
<rect x="150.55" y="596.65" width="15.30" height="17.40" fill="#fff" stroke-width="1.1"/>
<text transform="translate(158.20,588.30) scale(0.800,1)" font-size="8" text-anchor="middle" font-weight="bold">**</text>
<line x1="51.20" y1="529.77" x2="51.20" y2="615.33" stroke-width="1.45"/>
<line x1="50.48" y1="614.60" x2="179.00" y2="614.60" stroke-width="1.45"/>
<line x1="47.90" y1="614.60" x2="51.20" y2="614.60" stroke-width="1.0"/>
<text transform="translate(47.30,618.91) scale(0.790,1)" font-size="11.5" text-anchor="end">0</text>
<line x1="47.90" y1="593.58" x2="51.20" y2="593.58" stroke-width="1.0"/>
<text transform="translate(47.30,597.89) scale(0.790,1)" font-size="11.5" text-anchor="end">25</text>
<line x1="47.90" y1="572.55" x2="51.20" y2="572.55" stroke-width="1.0"/>
<text transform="translate(47.30,576.86) scale(0.790,1)" font-size="11.5" text-anchor="end">50</text>
<line x1="47.90" y1="551.52" x2="51.20" y2="551.52" stroke-width="1.0"/>
<text transform="translate(47.30,555.84) scale(0.790,1)" font-size="11.5" text-anchor="end">75</text>
<line x1="47.90" y1="530.50" x2="51.20" y2="530.50" stroke-width="1.0"/>
<text transform="translate(47.30,534.81) scale(0.790,1)" font-size="11.5" text-anchor="end">100</text>
<line x1="83.00" y1="614.60" x2="83.00" y2="617.80" stroke-width="1.0"/>
<line x1="145.00" y1="614.60" x2="145.00" y2="617.80" stroke-width="1.0"/>
<text transform="translate(74.40,627.00) scale(0.762,1)" font-size="11.53" text-anchor="start">LSK</text>
<text transform="translate(116.00,627.00) scale(0.806,1)" font-size="11.53" text-anchor="start">CD34-Flt3-LSK</text>
<text transform="translate(28.00,570.00) rotate(-90) scale(0.811,1)" font-size="11.53" text-anchor="middle">%CD45.2</text>
<line x1="277.85" y1="534.92" x2="277.85" y2="512.73" stroke-width="1.0"/>
<line x1="273.55" y1="512.73" x2="282.15" y2="512.73" stroke-width="1.0"/>
<rect x="269.50" y="534.92" width="16.70" height="80.08" fill="#000" stroke="none"/>
<line x1="300.75" y1="610.15" x2="300.75" y2="607.37" stroke-width="1.0"/>
<line x1="296.45" y1="607.37" x2="305.05" y2="607.37" stroke-width="1.0"/>
<rect x="293.05" y="610.70" width="15.40" height="3.75" fill="#fff" stroke-width="1.1"/>
<text transform="translate(300.75,604.80) scale(0.800,1)" font-size="8" text-anchor="middle" font-weight="bold">**</text>
<line x1="339.80" y1="593.02" x2="339.80" y2="587.27" stroke-width="1.0"/>
<line x1="335.50" y1="587.27" x2="344.10" y2="587.27" stroke-width="1.0"/>
<rect x="331.60" y="593.02" width="16.40" height="21.98" fill="#000" stroke="none"/>
<rect x="355.55" y="614.30" width="15.90" height="0.15" fill="#fff" stroke-width="1.1"/>
<text transform="translate(363.50,612.00) scale(0.800,1)" font-size="8" text-anchor="middle" font-weight="bold">**</text>
<line x1="258.20" y1="510.27" x2="258.20" y2="615.73" stroke-width="1.45"/>
<line x1="257.47" y1="615.00" x2="383.00" y2="615.00" stroke-width="1.45"/>
<line x1="254.90" y1="615.00" x2="258.20" y2="615.00" stroke-width="1.0"/>
<text transform="translate(254.30,619.35) scale(0.830,1)" font-size="11.6" text-anchor="end">0</text>
<line x1="254.90" y1="594.20" x2="258.20" y2="594.20" stroke-width="1.0"/>
<text transform="translate(254.30,598.55) scale(0.830,1)" font-size="11.6" text-anchor="end">3</text>
<line x1="254.90" y1="573.40" x2="258.20" y2="573.40" stroke-width="1.0"/>
<text transform="translate(254.30,577.75) scale(0.830,1)" font-size="11.6" text-anchor="end">6</text>
<line x1="254.90" y1="552.60" x2="258.20" y2="552.60" stroke-width="1.0"/>
<text transform="translate(254.30,556.95) scale(0.830,1)" font-size="11.6" text-anchor="end">9</text>
<line x1="254.90" y1="531.80" x2="258.20" y2="531.80" stroke-width="1.0"/>
<text transform="translate(254.30,536.15) scale(0.830,1)" font-size="11.6" text-anchor="end">12</text>
<line x1="254.90" y1="511.00" x2="258.20" y2="511.00" stroke-width="1.0"/>
<text transform="translate(254.30,515.35) scale(0.830,1)" font-size="11.6" text-anchor="end">15</text>
<line x1="289.30" y1="615.00" x2="289.30" y2="618.20" stroke-width="1.0"/>
<line x1="351.80" y1="615.00" x2="351.80" y2="618.20" stroke-width="1.0"/>
<text transform="translate(279.60,629.30) scale(0.813,1)" font-size="11.98" text-anchor="start">LSK</text>
<text transform="translate(320.80,629.30) scale(0.850,1)" font-size="11.98" text-anchor="start">CD34-Flt3-LSK</text>
<text transform="translate(238.80,559.00) rotate(-90) scale(0.890,1)" font-size="11.5" text-anchor="middle"><tspan>no. of  cells (10</tspan><tspan dy="-4.37" font-size="7.48">4</tspan><tspan dy="4.37" font-size="7.48">&#8203;</tspan><tspan>)</tspan></text>
</g></svg></body></html>
